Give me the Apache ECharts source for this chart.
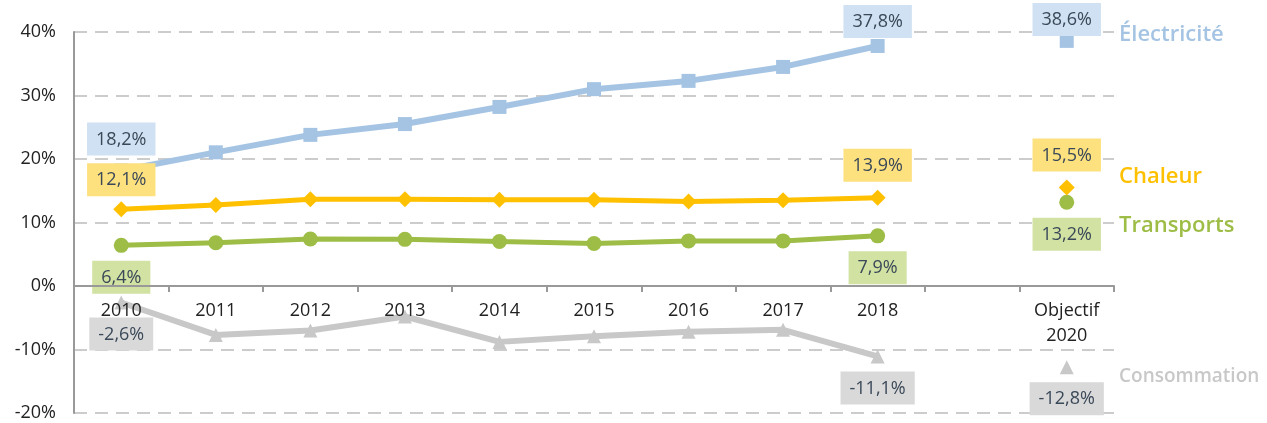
<!DOCTYPE html>
<html>
<head>
<meta charset="utf-8">
<script src="https://cdn.jsdelivr.net/npm/echarts@6/dist/echarts.min.js"></script>
<style>
  html, body { margin: 0; padding: 0; background: #fff; }
  #chart { width: 1267px; height: 423px; }
</style>
</head>
<body>
<div id="chart"></div>
<script>
// categories (empty slot before the 2020 target)
const categories = ['2010', '2011', '2012', '2013', '2014', '2015', '2016', '2017', '2018', '', 'Objectif\n2020'];
const electricite = [18.2, 21.05, 23.8, 25.5, 28.2, 31.0, 32.3, 34.5, 37.8, null, 38.6];
const chaleur = [12.1, 12.75, 13.65, 13.65, 13.6, 13.6, 13.3, 13.5, 13.9, null, 15.5];
const transports = [6.4, 6.8, 7.4, 7.35, 7.0, 6.7, 7.1, 7.1, 7.9, null, 13.2];
const consommation = [-2.6, -7.7, -7.0, -4.8, -8.8, -7.9, -7.2, -6.9, -11.1, null, -12.8];
const labelledIdx = [0, 8, 10];
const yTicks = [-20, -10, 0, 10, 20, 30, 40];

const FONT = '"Open Sans", "Noto Sans", sans-serif';
const GRID = { left: 74, right: 153, top: 32, bottom: 10 };
const CHART_H = 423;

function fmt(v) {
    return v.toFixed(1).replace('.', ',') + '%';
}

function buildData(values, bg, position, offsets) {
    return values.map(function (v, i) {
        if (v === null) return null;
        if (labelledIdx.indexOf(i) < 0) return v;
        return {
            value: v,
            label: {
                show: true,
                position: position,
                distance: 8,
                offset: (offsets && offsets[i]) || [0, 0],
                formatter: function (p) { return fmt(p.value); },
                backgroundColor: bg,
                color: '#3a4858',
                fontFamily: FONT,
                fontSize: 18,
                lineHeight: 22,
                padding: [6, 9, 5, 9]
            }
        };
    });
}

function lineSeries(name, values, color, width, symbol, size, bg, position, offsets) {
    return {
        name: name,
        type: 'line',
        data: buildData(values, bg, position, offsets),
        connectNulls: false,
        symbol: symbol,
        symbolSize: size,
        showAllSymbol: true,
        lineStyle: { color: color, width: width },
        itemStyle: { color: color },
        emphasis: { disabled: true },
        z: 3
    };
}

// move the category axis up to the zero line
const yMin = yTicks[0], yMax = yTicks[yTicks.length - 1];
const gridH = CHART_H - GRID.top - GRID.bottom;
const zeroOffset = -gridH * (0 - yMin) / (yMax - yMin);

const chart = echarts.init(document.getElementById('chart'));

const option = {
    animation: false,
    grid: {
        left: GRID.left, right: GRID.right, top: GRID.top, bottom: GRID.bottom,
        containLabel: false,
        outerBoundsMode: 'none'
    },
    xAxis: {
        type: 'category',
        data: categories,
        boundaryGap: true,
        position: 'bottom',
        offset: zeroOffset,
        z: 5,
        axisLine: { onZero: false, lineStyle: { color: '#999', width: 2 } },
        axisTick: { show: true, length: 6, lineStyle: { color: '#999', width: 2 } },
        axisLabel: {
            interval: 0,
            margin: 12,
            color: '#222',
            fontFamily: FONT,
            fontSize: 18,
            lineHeight: 25
        },
        splitLine: { show: false }
    },
    yAxis: {
        type: 'value',
        min: yMin,
        max: yMax,
        interval: 10,
        axisLine: { show: true, lineStyle: { color: '#999', width: 2 } },
        axisTick: { show: false },
        axisLabel: {
            margin: 18,
            color: '#222',
            fontFamily: FONT,
            fontSize: 18,
            formatter: '{value}%'
        },
        splitLine: { lineStyle: { color: '#cccccc', width: 2, type: [13, 8] } }
    },
    series: [
        lineSeries('Consommation', consommation, '#c8c8c8', 6, 'triangle', 14, '#d9d9d9', 'bottom'),
        lineSeries('Transports', transports, '#9dbd46', 5, 'circle', 15, '#d1e2a3', 'bottom'),
        lineSeries('Chaleur', chaleur, '#ffc000', 5, 'diamond', 16, '#fee17f', 'top',
            { 0: [0, 3] }),
        lineSeries('Électricité', electricite, '#a5c4e3', 6, 'rect', 14, '#cfe1f2', 'top',
            { 8: [0, 7], 10: [0, 10] })
    ],
    graphic: [
        { type: 'text', left: 1119, top: 24, style: { text: 'Électricité', fill: '#a5c4e3', font: '600 22px ' + FONT } },
        { type: 'text', left: 1119, top: 166, style: { text: 'Chaleur', fill: '#ffc000', font: '600 22px ' + FONT } },
        { type: 'text', left: 1119, top: 215, style: { text: 'Transports', fill: '#9dbd46', font: '600 22px ' + FONT } },
        { type: 'text', left: 1119, top: 367, style: { text: 'Consommation', fill: '#c8c8c8', font: '600 19px ' + FONT } }
    ]
};

chart.setOption(option);
</script>
</body>
</html>
